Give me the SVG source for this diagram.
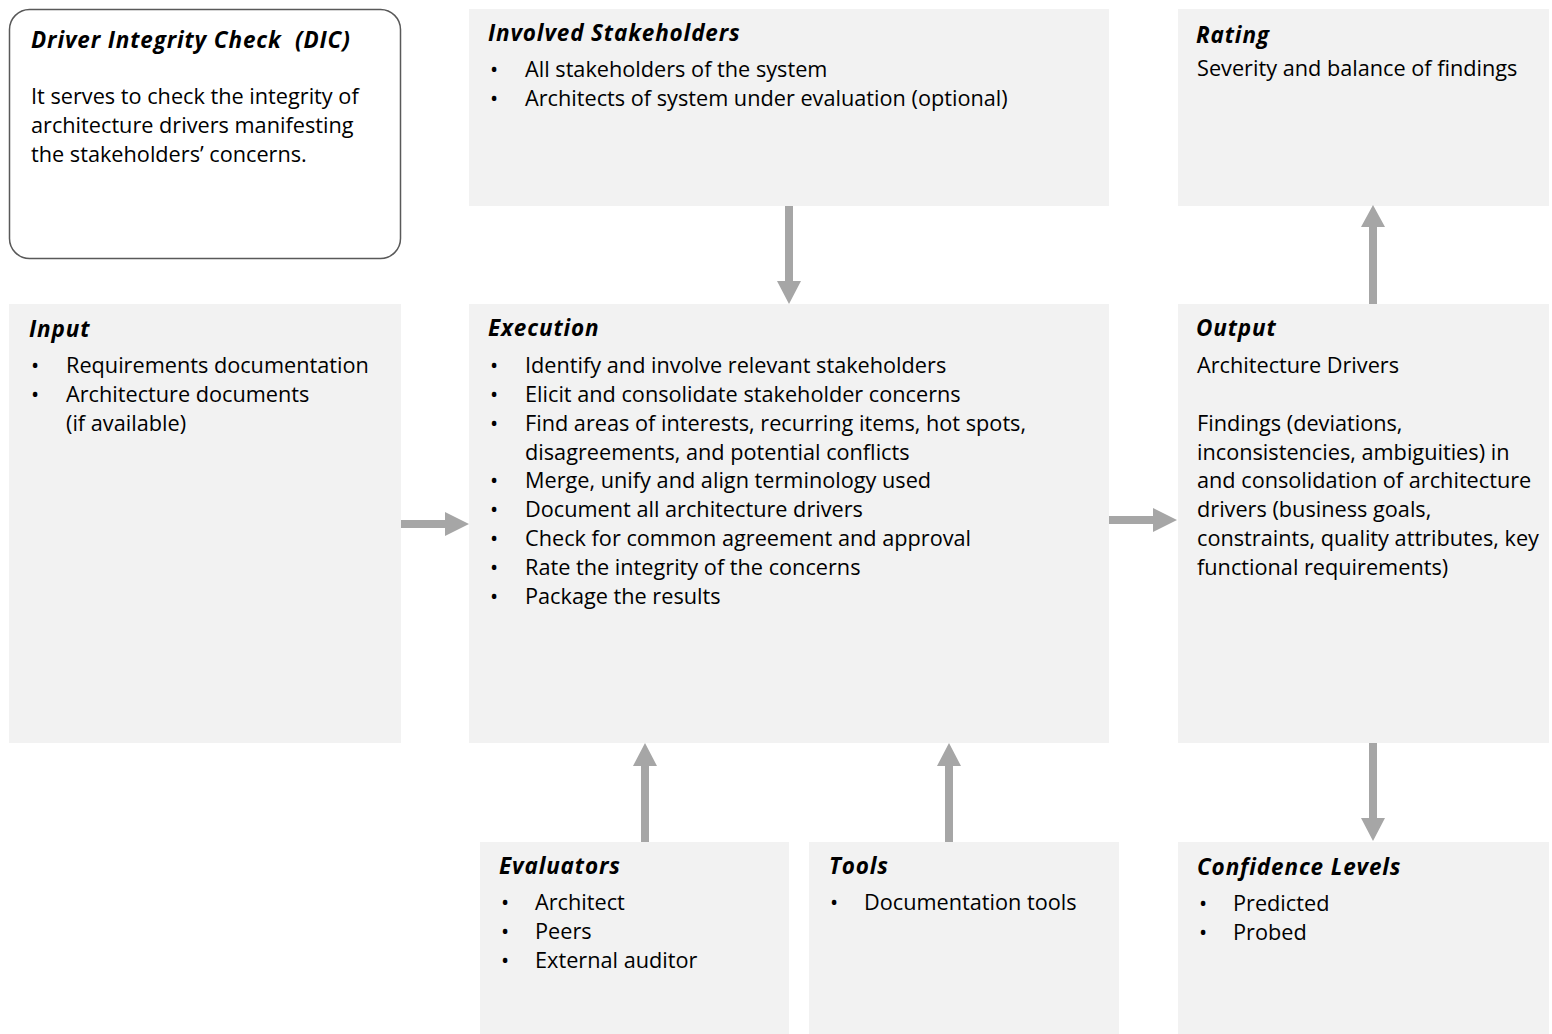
<svg xmlns="http://www.w3.org/2000/svg" width="1552" height="1034" viewBox="0 0 1552 1034">
  <style>
    .box { fill: #f2f2f2; }
    .card { fill: #ffffff; stroke: #595959; stroke-width: 1.5; }
    text { font-family: "Open Sans", "Noto Sans", "DejaVu Sans", sans-serif; fill: #000; }
    .title { font-size: 22.5px; font-weight: 700; font-style: italic; letter-spacing: 0.85px; white-space: pre; }
    .body { font-size: 21.7px; }
    .arrow { fill: #a6a6a6; }
  </style>

  <!-- Summary card -->
  <g id="dic">
    <rect class="card" x="9.5" y="9.5" width="391" height="249" rx="20" ry="20"/>
    <text class="title" x="31" y="48" xml:space="preserve">Driver Integrity Check  (DIC)</text>
    <text class="body" x="31" y="104">It serves to check the integrity of</text>
    <text class="body" x="31" y="133">architecture drivers manifesting</text>
    <text class="body" x="31" y="162">the stakeholders’ concerns.</text>
  </g>

  <g id="stakeholders">
    <rect class="box" x="469" y="9" width="640" height="197"/>
    <text class="title" x="488" y="41">Involved Stakeholders</text>
    <text class="body" x="490" y="77">•</text>
    <text class="body" x="525" y="77">All stakeholders of the system</text>
    <text class="body" x="490" y="106">•</text>
    <text class="body" x="525" y="106">Architects of system under evaluation (optional)</text>
  </g>

  <g id="rating">
    <rect class="box" x="1178" y="9" width="371" height="197"/>
    <text class="title" x="1196" y="43">Rating</text>
    <text class="body" x="1197" y="76">Severity and balance of findings</text>
  </g>

  <g id="input">
    <rect class="box" x="9" y="304" width="392" height="439"/>
    <text class="title" x="29" y="337">Input</text>
    <text class="body" x="31" y="373">•</text>
    <text class="body" x="66" y="373">Requirements documentation</text>
    <text class="body" x="31" y="402">•</text>
    <text class="body" x="66" y="402">Architecture documents</text>
    <text class="body" x="66" y="431">(if available)</text>
  </g>

  <g id="execution">
    <rect class="box" x="469" y="304" width="640" height="439"/>
    <text class="title" x="488" y="336">Execution</text>
    <text class="body" x="490" y="373">•</text>
    <text class="body" x="525" y="373">Identify and involve relevant stakeholders</text>
    <text class="body" x="490" y="402">•</text>
    <text class="body" x="525" y="402">Elicit and consolidate stakeholder concerns</text>
    <text class="body" x="490" y="431">•</text>
    <text class="body" x="525" y="431">Find areas of interests, recurring items, hot spots,</text>
    <text class="body" x="525" y="460">disagreements, and potential conflicts</text>
    <text class="body" x="490" y="488">•</text>
    <text class="body" x="525" y="488">Merge, unify and align terminology used</text>
    <text class="body" x="490" y="517">•</text>
    <text class="body" x="525" y="517">Document all architecture drivers</text>
    <text class="body" x="490" y="546">•</text>
    <text class="body" x="525" y="546">Check for common agreement and approval</text>
    <text class="body" x="490" y="575">•</text>
    <text class="body" x="525" y="575">Rate the integrity of the concerns</text>
    <text class="body" x="490" y="604">•</text>
    <text class="body" x="525" y="604">Package the results</text>
  </g>

  <g id="output">
    <rect class="box" x="1178" y="304" width="371" height="439"/>
    <text class="title" x="1196" y="336">Output</text>
    <text class="body" x="1197" y="373">Architecture Drivers</text>
    <text class="body" x="1197" y="431">Findings (deviations,</text>
    <text class="body" x="1197" y="460">inconsistencies, ambiguities) in</text>
    <text class="body" x="1197" y="488">and consolidation of architecture</text>
    <text class="body" x="1197" y="517">drivers (business goals,</text>
    <text class="body" x="1197" y="546">constraints, quality attributes, key</text>
    <text class="body" x="1197" y="575">functional requirements)</text>
  </g>

  <g id="evaluators">
    <rect class="box" x="480" y="842" width="309" height="192"/>
    <text class="title" x="499" y="874">Evaluators</text>
    <text class="body" x="501" y="910">•</text>
    <text class="body" x="535" y="910">Architect</text>
    <text class="body" x="501" y="939">•</text>
    <text class="body" x="535" y="939">Peers</text>
    <text class="body" x="501" y="968">•</text>
    <text class="body" x="535" y="968">External auditor</text>
  </g>

  <g id="tools">
    <rect class="box" x="809" y="842" width="310" height="192"/>
    <text class="title" x="829" y="874">Tools</text>
    <text class="body" x="830" y="910">•</text>
    <text class="body" x="864" y="910">Documentation tools</text>
  </g>

  <g id="confidence">
    <rect class="box" x="1178" y="842" width="371" height="192"/>
    <text class="title" x="1197" y="875">Confidence Levels</text>
    <text class="body" x="1199" y="911">•</text>
    <text class="body" x="1233" y="911">Predicted</text>
    <text class="body" x="1199" y="940">•</text>
    <text class="body" x="1233" y="940">Probed</text>
  </g>

  <!-- Block arrows between the boxes -->
  <g id="connectors" class="arrow">
    <!-- Input to Execution -->
    <polygon points="401,520 445,520 445,512 469,524 445,536 445,528 401,528"/>
    <!-- Stakeholders to Execution -->
    <polygon points="785,206 793,206 793,281 801,281 789,304 777,281 785,281"/>
    <!-- Execution to Output -->
    <polygon points="1109,516 1153,516 1153,508 1177,520 1153,532 1153,524 1109,524"/>
    <!-- Output to Rating -->
    <polygon points="1369,304 1377,304 1377,227 1385,227 1373,205 1361,227 1369,227"/>
    <!-- Evaluators to Execution -->
    <polygon points="641,842 649,842 649,766 657,766 645,743 633,766 641,766"/>
    <!-- Tools to Execution -->
    <polygon points="945,842 953,842 953,766 961,766 949,743 937,766 945,766"/>
    <!-- Output to Confidence Levels -->
    <polygon points="1369,743 1377,743 1377,818 1385,818 1373,841 1361,818 1369,818"/>
  </g>
</svg>
